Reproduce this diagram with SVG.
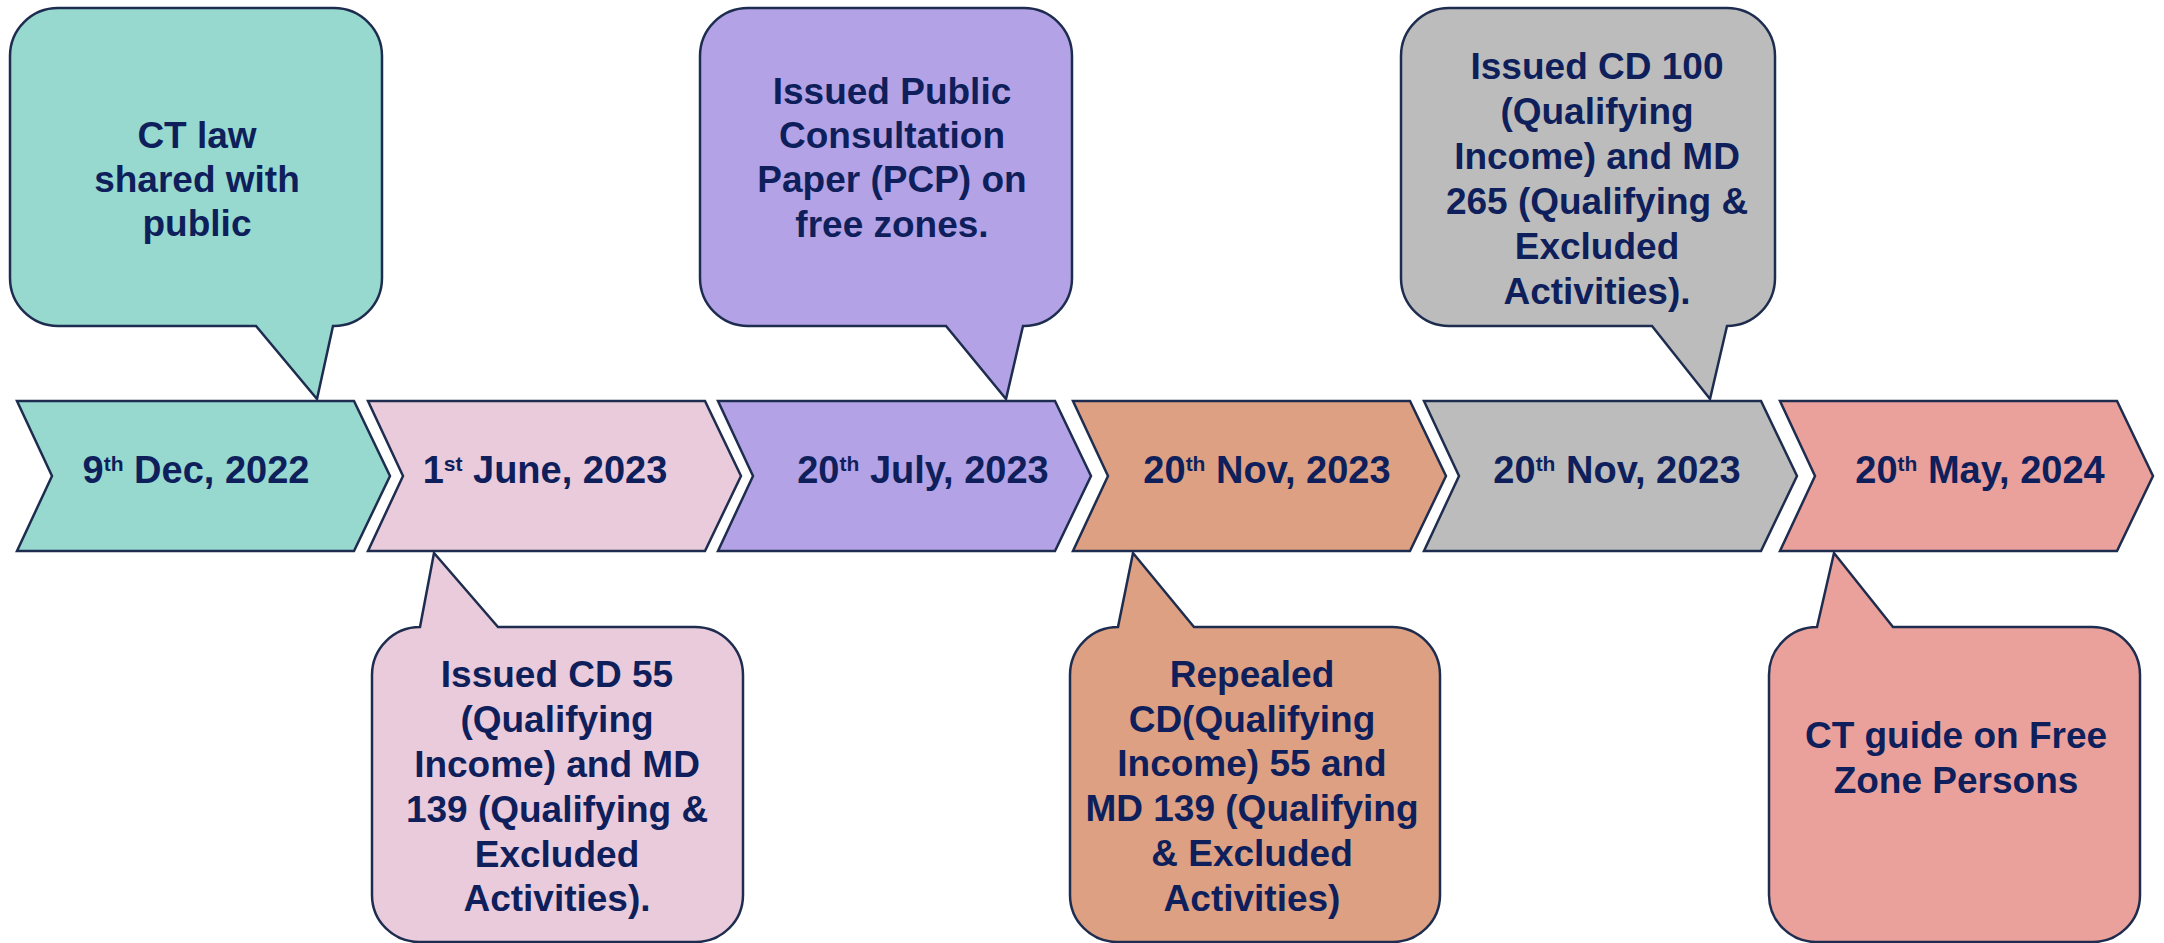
<svg xmlns="http://www.w3.org/2000/svg" width="2164" height="943" viewBox="0 0 2164 943">
  <style>
    .shape { stroke: #1E2D4F; stroke-width: 2.5; stroke-linejoin: miter; }
    .date { font-family: "Liberation Sans", Arial, sans-serif; font-weight: bold; font-size: 38px; fill: #0E1F5B; text-anchor: middle; }
    .sup { font-size: 21px; }
    .note { font-family: "Liberation Sans", Arial, sans-serif; font-weight: bold; font-size: 37px; fill: #0E1F5B; text-anchor: middle; }
    .teal { fill: #97D9CF; }
    .pink { fill: #E9CBDB; }
    .purple { fill: #B3A3E6; }
    .orange { fill: #DDA083; }
    .gray { fill: #BCBCBC; }
    .salmon { fill: #EAA19B; }
  </style>

  <rect width="2164" height="943" fill="#FFFFFF"/>

  <!-- timeline chevrons -->
  <g id="timeline">
    <g id="step-1">
      <path class="shape teal" d="M17,401 H354 L390,476 L354,551 H17 L52,476 Z"/>
      <text class="date" x="196" y="483">9<tspan class="sup" dy="-12">th</tspan><tspan dy="12"> Dec, 2022</tspan></text>
    </g>
    <g id="step-2">
      <path class="shape pink" d="M368,401 H705 L741,476 L705,551 H368 L403,476 Z"/>
      <text class="date" x="545" y="483">1<tspan class="sup" dy="-12">st</tspan><tspan dy="12"> June, 2023</tspan></text>
    </g>
    <g id="step-3">
      <path class="shape purple" d="M718,401 H1055 L1091,476 L1055,551 H718 L753,476 Z"/>
      <text class="date" x="923" y="483">20<tspan class="sup" dy="-12">th</tspan><tspan dy="12"> July, 2023</tspan></text>
    </g>
    <g id="step-4">
      <path class="shape orange" d="M1073,401 H1410 L1446,476 L1410,551 H1073 L1108,476 Z"/>
      <text class="date" x="1267" y="483">20<tspan class="sup" dy="-12">th</tspan><tspan dy="12"> Nov, 2023</tspan></text>
    </g>
    <g id="step-5">
      <path class="shape gray" d="M1424,401 H1761 L1797,476 L1761,551 H1424 L1459,476 Z"/>
      <text class="date" x="1617" y="483">20<tspan class="sup" dy="-12">th</tspan><tspan dy="12"> Nov, 2023</tspan></text>
    </g>
    <g id="step-6">
      <path class="shape salmon" d="M1780,401 H2117 L2153,476 L2117,551 H1780 L1815,476 Z"/>
      <text class="date" x="1980" y="483">20<tspan class="sup" dy="-12">th</tspan><tspan dy="12"> May, 2024</tspan></text>
    </g>
  </g>

  <!-- callouts above the timeline -->
  <g id="callout-ct-law">
    <path class="shape teal" d="M58,8 H334 A48,48 0 0 1 382,56 V278 A48,48 0 0 1 334,326 H333 L317,399 L256,326 H58 A48,48 0 0 1 10,278 V56 A48,48 0 0 1 58,8 Z"/>
    <text class="note" x="197" y="148">CT law</text>
    <text class="note" x="197" y="192">shared with</text>
    <text class="note" x="197" y="236">public</text>
  </g>

  <g id="callout-pcp">
    <path class="shape purple" d="M748,8 H1024 A48,48 0 0 1 1072,56 V278 A48,48 0 0 1 1024,326 H1023 L1006,399 L946,326 H748 A48,48 0 0 1 700,278 V56 A48,48 0 0 1 748,8 Z"/>
    <text class="note" x="892" y="104">Issued Public</text>
    <text class="note" x="892" y="148">Consultation</text>
    <text class="note" x="892" y="192">Paper (PCP) on</text>
    <text class="note" x="892" y="237">free zones.</text>
  </g>

  <g id="callout-cd100">
    <path class="shape gray" d="M1449,8 H1727 A48,48 0 0 1 1775,56 V278 A48,48 0 0 1 1727,326 L1727,326 L1710,399 L1652,326 H1449 A48,48 0 0 1 1401,278 V56 A48,48 0 0 1 1449,8 Z"/>
    <text class="note" x="1597" y="79">Issued CD 100</text>
    <text class="note" x="1597" y="124">(Qualifying</text>
    <text class="note" x="1597" y="169">Income) and MD</text>
    <text class="note" x="1597" y="214">265 (Qualifying &amp;</text>
    <text class="note" x="1597" y="259">Excluded</text>
    <text class="note" x="1597" y="304">Activities).</text>
  </g>

  <!-- callouts below the timeline -->
  <g id="callout-cd55">
    <path class="shape pink" d="M420,627 L434,553 L498,627 H695 A48,48 0 0 1 743,675 V895 A47,47 0 0 1 696,942 H419 A47,47 0 0 1 372,895 V675 A48,48 0 0 1 420,627 Z"/>
    <text class="note" x="557" y="687">Issued CD 55</text>
    <text class="note" x="557" y="732">(Qualifying</text>
    <text class="note" x="557" y="777">Income) and MD</text>
    <text class="note" x="557" y="822">139 (Qualifying &amp;</text>
    <text class="note" x="557" y="867">Excluded</text>
    <text class="note" x="557" y="911">Activities).</text>
  </g>

  <g id="callout-repealed">
    <path class="shape orange" d="M1118,627 L1133,553 L1194,627 H1392 A48,48 0 0 1 1440,675 V895 A47,47 0 0 1 1393,942 H1117 A47,47 0 0 1 1070,895 V675 A48,48 0 0 1 1118,627 Z"/>
    <text class="note" x="1252" y="687">Repealed</text>
    <text class="note" x="1252" y="732">CD(Qualifying</text>
    <text class="note" x="1252" y="776">Income) 55 and</text>
    <text class="note" x="1252" y="821">MD 139 (Qualifying</text>
    <text class="note" x="1252" y="866">&amp; Excluded</text>
    <text class="note" x="1252" y="911">Activities)</text>
  </g>

  <g id="callout-guide">
    <path class="shape salmon" d="M1817,627 L1834,553 L1893,627 H2092 A48,48 0 0 1 2140,675 V895 A47,47 0 0 1 2093,942 H1816 A47,47 0 0 1 1769,895 V675 A48,48 0 0 1 1817,627 Z"/>
    <text class="note" x="1956" y="748">CT guide on Free</text>
    <text class="note" x="1956" y="793">Zone Persons</text>
  </g>
</svg>
